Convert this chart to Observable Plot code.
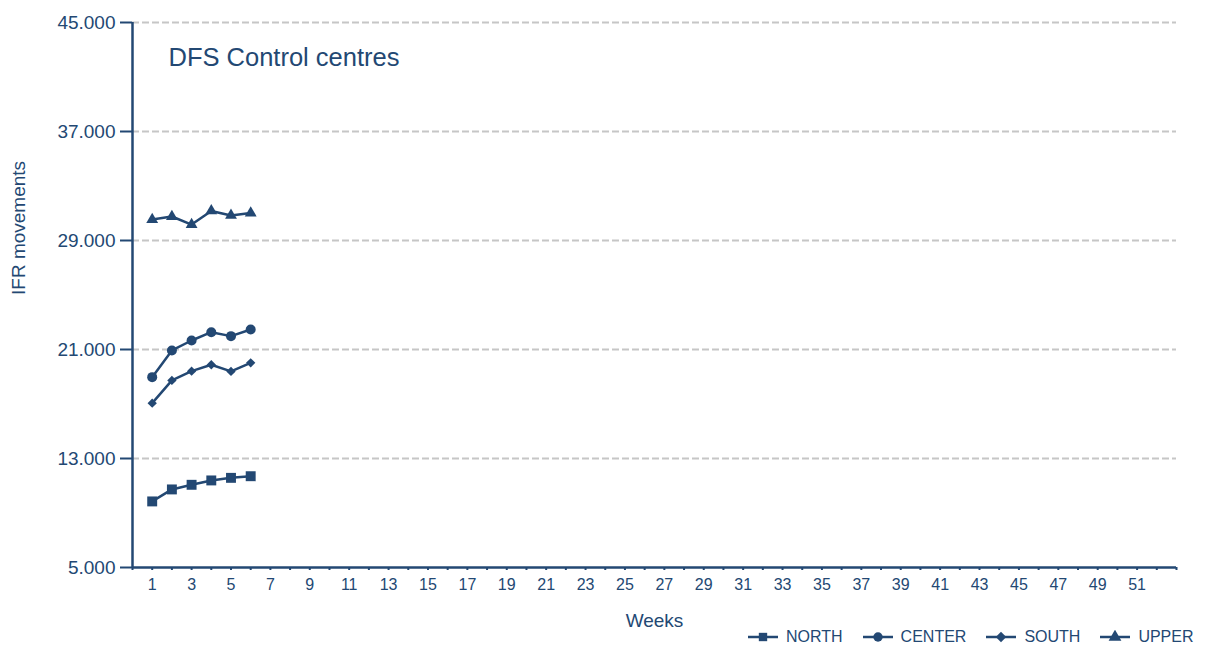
<!DOCTYPE html>
<html>
<head>
<meta charset="utf-8">
<script src="https://cdn.jsdelivr.net/npm/d3@7"></script>
<script src="https://cdn.jsdelivr.net/npm/@observablehq/plot@0.6"></script>
<style>
  html, body { margin: 0; padding: 0; background: #fff; }
  #wrap { position: relative; width: 1208px; height: 650px; font-family: "Liberation Sans", Arial, sans-serif; color: #234873; }
  #legend { position: absolute; top: 628px; left: 748px; display: flex; align-items: center; font-size: 16px; line-height: 18px; color: #234873; }
  #legend .item { display: flex; align-items: center; margin-right: 20px; }
  #legend svg { margin-right: 8px; }
</style>
</head>
<body>
<div id="wrap"><div id="chart"></div><div id="legend"></div></div>
<script>
// Data
const weeks = [1, 2, 3, 4, 5, 6];
const north  = [9850, 10730, 11070, 11390, 11580, 11700];
const center = [18970, 20930, 21660, 22270, 21980, 22470];
const south  = [17060, 18730, 19410, 19880, 19390, 20020];
const upper  = [30540, 30760, 30170, 31170, 30840, 31020];
const seriesNames = ["NORTH", "CENTER", "SOUTH", "UPPER"];
const seriesSymbols = ["square", "circle", "diamond2", "triangle"];
const yTicks = [5000, 13000, 21000, 29000, 37000, 45000];
const xTicks = d3.range(0, 54);
const title = "DFS Control centres";
const xLabel = "Weeks";
const yLabel = "IFR movements";

const ink = "#234873";
const symbolRadius = {square: 5.6, circle: 5, diamond2: 4.2, triangle: 4.4};
const seriesValues = [north, center, south, upper];
const data = seriesNames.flatMap((name, i) =>
  weeks.map((w, j) => ({series: name, week: w, value: seriesValues[i][j], r: symbolRadius[seriesSymbols[i]]})));

const fmt = d => d3.format(",")(d).replace(/,/g, ".");
const font = "'Liberation Sans', Arial, sans-serif";

const chart = Plot.plot({
  width: 1208,
  height: 632,
  marginLeft: 132,
  marginRight: 32,
  marginTop: 22,
  marginBottom: 65,
  style: {fontFamily: font, color: ink, background: "#fff"},
  x: {type: "linear", domain: [0, 53]},
  y: {domain: [5000, 45000]},
  r: {type: "identity"},
  symbol: {domain: seriesNames, range: seriesSymbols},
  marks: [
    Plot.ruleY(yTicks.filter(d => d > 5000), {stroke: "#c6c6c6", strokeWidth: 2, strokeDasharray: "7,3"}),
    Plot.axisY({ticks: yTicks, tickFormat: fmt, tickSize: 12, tickPadding: 5, stroke: ink, strokeWidth: 2, fontSize: 19, fill: ink, label: null}),
    Plot.axisX({ticks: xTicks, tickFormat: d => (d % 2 === 1 && d < 52 ? d : ""), tickSize: 3, tickPadding: 8, stroke: ink, strokeWidth: 2, fontSize: 16, fill: ink, label: null}),
    Plot.ruleX([0], {y1: 5000, y2: 45000, stroke: ink, strokeWidth: 2.5}),
    Plot.ruleY([5000], {stroke: ink, strokeWidth: 2.5}),
    Plot.line(data, {x: "week", y: "value", z: "series", stroke: ink, strokeWidth: 2.5}),
    Plot.dot(data, {x: "week", y: "value", symbol: "series", r: "r", fill: ink, stroke: "none"}),
    Plot.text([title], {frameAnchor: "top-left", dx: 36, dy: 25, fontSize: 25.5, fill: ink, textAnchor: "start", lineAnchor: "top"}),
    Plot.text([xLabel], {frameAnchor: "bottom", dy: 53, fontSize: 19, fill: ink, lineAnchor: "middle"}),
    Plot.text([yLabel], {frameAnchor: "left", dx: -114, rotate: -90, fontSize: 19, fill: ink})
  ]
});
document.getElementById("chart").appendChild(chart);

// Legend
const legend = d3.select("#legend");
seriesNames.forEach((name, i) => {
  const item = legend.append("div").attr("class", "item");
  const svg = item.append("svg").attr("width", 30).attr("height", 14);
  svg.append("line").attr("x1", 0).attr("x2", 30).attr("y1", 7).attr("y2", 7).attr("stroke", ink).attr("stroke-width", 2.5);
  const sym = {square: d3.symbolSquare, circle: d3.symbolCircle, diamond2: d3.symbolDiamond2, triangle: d3.symbolTriangle}[seriesSymbols[i]];
  svg.append("path").attr("transform", "translate(15,7)").attr("d", d3.symbol(sym, 70)()).attr("fill", ink);
  item.append("span").text(name);
});
</script>
</body>
</html>
